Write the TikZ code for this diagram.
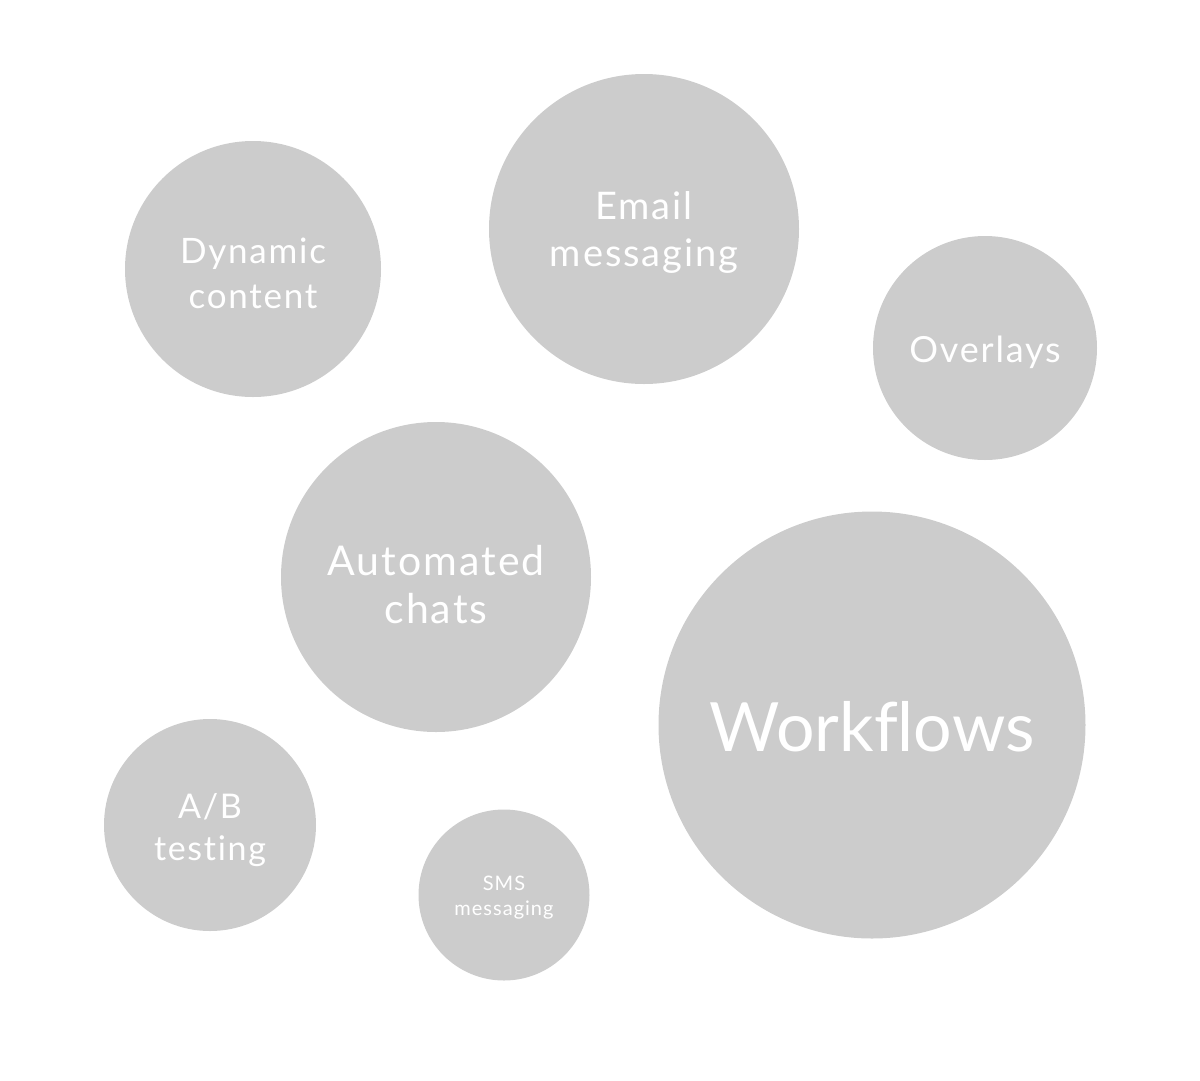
\documentclass[tikz,border=0pt]{standalone}
\usepackage{fontspec}
\setmainfont{Lato}[Ligatures=NoCommon,LetterSpace=5]
\usepackage{xcolor}
\definecolor{bub}{HTML}{CCCCCC}
\usetikzlibrary{positioning}
\tikzset{
  bubble/.style={circle,fill=bub,draw=none,inner sep=0pt},
  txt/.style={text=white,align=center,inner sep=0pt},
}

\begin{document}
\begin{tikzpicture}[x=1pt,y=-1pt]
\useasboundingbox (0,0) rectangle (1200,1080);
% bubbles
\node[bubble,minimum size=256pt] (dyn) at (253,269) {};
\node[bubble,minimum size=310pt] (email) at (644,229) {};
\node[bubble,minimum size=224pt] (over) at (985,348) {};
\node[bubble,minimum size=310pt] (chat) at (436,577) {};
\node[bubble,minimum size=427pt] (work) at (872,725) {};
\node[bubble,minimum size=212pt] (ab) at (210,825) {};
\node[bubble,minimum size=171pt] (sms) at (504,895) {};
% labels
\node[txt,font=\fontsize{35}{45}\selectfont] (dynT) at ([yshift=-4pt]dyn.center) {Dynamic\\content};
\node[txt,font=\fontsize{38}{47}\selectfont] (emailT) at ([yshift=-3pt]email.center) {Email\\messaging};
\node[txt,font=\fontsize{36}{43}\selectfont] (overT) at ([yshift=-4pt]over.center) {Overlays};
\node[txt,font=\fontsize{41}{48}\selectfont] (chatT) at ([yshift=-8pt]chat.center) {Automated\\chats};
\node[txt,font=\fontsize{68}{80}\selectfont\addfontfeatures{LetterSpace=0}] (workT) at ([yshift=-2pt]work.center) {Workflows};
\node[txt,font=\fontsize{34}{42}\selectfont] (abT) at ([yshift=-5pt]ab.center) {A/B\\testing};
\node[txt,font=\fontsize{20}{25}\selectfont] (smsT) at ([yshift=-3pt]sms.center) {SMS\\messaging};
\end{tikzpicture}
\end{document}
